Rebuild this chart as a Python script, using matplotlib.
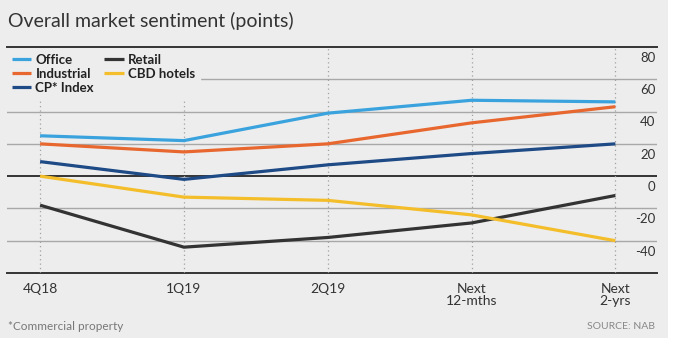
import matplotlib.pyplot as plt

plt.rcParams['font.family'] = ['Lato', 'DejaVu Sans']

periods = ['4Q18', '1Q19', '2Q19', 'Next\n12-mths', 'Next\n2-yrs']
office = [25, 22, 39, 47, 46]
industrial = [20, 15, 20, 33, 43]
cp_index = [9, -2, 7, 14, 20]
retail = [-18, -44, -38, -29, -12]
cbd_hotels = [0, -13, -15, -24, -40]
yticks = [80, 60, 40, 20, 0, -20, -40]

bg = '#ededee'
series = [
    ('Office', office, '#3aa3de'),
    ('Industrial', industrial, '#e8672e'),
    ('CP* Index', cp_index, '#1e4a86'),
    ('Retail', retail, '#333333'),
    ('CBD hotels', cbd_hotels, '#f4bd2a'),
]

fig = plt.figure(figsize=(6.76, 3.45), dpi=100)
fig.patch.set_facecolor('white')
# grey card behind everything
fig.patches.append(plt.Rectangle((0, 0.02), 0.988, 0.98, transform=fig.transFigure,
                                 facecolor=bg, edgecolor='none', zorder=-10))

ax = fig.add_axes([0.0104, 0.2087, 0.9616, 0.6551])
ax.set_facecolor(bg)
x = list(range(len(periods)))
ax.set_xlim(-0.23, 4.29)
ax.set_ylim(-60, 80)

for v in yticks:
    if v == 80:
        # top rule sits above the legend box
        ax.axhline(v, color='#333333', lw=1.4, zorder=6, clip_on=False)
    elif v == 0:
        ax.axhline(v, color='#333333', lw=1.4, zorder=1)
    else:
        ax.axhline(v, color='#a8a8a8', lw=1.0, zorder=1)
    ax.annotate(str(v), xy=(1, v), xycoords=ax.get_yaxis_transform(),
                xytext=(-1, -3.5), textcoords='offset points',
                ha='right', va='top', fontsize=9.5, color='#333333')
ax.axhline(-60, color='#333333', lw=1.4, zorder=1, clip_on=False)

for xi in x:
    ax.axvline(xi, color='#a0a0a0', lw=0.9, ls=(0, (1, 2.5)), zorder=1)

for name, vals, col in series:
    ax.plot(x, vals, color=col, lw=2.3, label=name, zorder=3, solid_capstyle='butt')

for s in ax.spines.values():
    s.set_visible(False)
ax.set_yticks([])
ax.set_xticks(x)
ax.set_xticklabels(periods, fontsize=10, color='#333333', linespacing=1.0)
ax.tick_params(axis='x', length=0, pad=7)

leg = ax.legend(loc='upper left', bbox_to_anchor=(0, 0.99), ncol=2, frameon=True,
                facecolor=bg, edgecolor=bg, framealpha=1, fancybox=False,
                borderaxespad=0, borderpad=0.35, handlelength=1.5, handletextpad=0.3,
                columnspacing=0.8, labelspacing=0.15,
                prop={'weight': 'bold', 'size': 9.5})
leg.set_zorder(5)
for t in leg.get_texts():
    t.set_color('#222222')

fig.text(0.012, 0.94, 'Overall market sentiment (points)', fontsize=14,
         color='#333333', va='center', ha='left')
fig.text(0.012, 0.055, '*Commercial property', fontsize=8.5, color='#777777',
         va='center', ha='left')
fig.text(0.969, 0.055, 'SOURCE: NAB', fontsize=7.5, color='#888888',
         va='center', ha='right')

fig.savefig('out.png', dpi=100, facecolor=fig.get_facecolor())
